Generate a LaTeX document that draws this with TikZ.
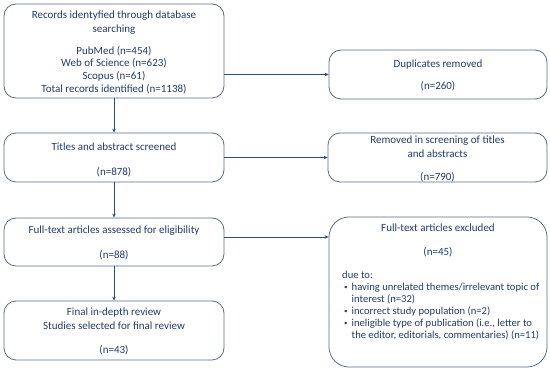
\documentclass[tikz,border=0pt]{standalone}
\usepackage{fontspec}
\setmainfont{Carlito}
\usetikzlibrary{arrows.meta}
\definecolor{txt}{HTML}{223B6A}
\definecolor{edge}{HTML}{5A6C8A}
\definecolor{arrc}{HTML}{2F4B7C}
\begin{document}
\begin{tikzpicture}[x=1pt,y=-1pt,
  box/.style={draw=edge,line width=0.8pt,rounded corners=12pt,inner sep=0pt},
  lbl/.style={text=txt,font=\fontsize{11}{13}\selectfont,inner sep=0pt,align=center},
  lst/.style={text=txt,font=\fontsize{10.6}{12.7}\selectfont,inner sep=0pt,anchor=base west},
  bul/.style={text=txt,font=\fontsize{7}{8}\selectfont,inner sep=0pt,anchor=base west},
  arr/.style={draw=arrc,line width=0.7pt,-{Stealth[length=4pt,width=3.5pt]}}]
\useasboundingbox (0,0) rectangle (550,371);
% boxes
\node[box,minimum width=220pt,minimum height=94pt] (b1) at (114,51) {};
\node[box,minimum width=218pt,minimum height=49pt] (dup) at (438,74.5) {};
\node[box,minimum width=220pt,minimum height=49pt] (tit) at (114,157.5) {};
\node[box,minimum width=219pt,minimum height=49pt] (rem) at (437.5,157.5) {};
\node[box,minimum width=220pt,minimum height=48pt] (ful) at (114,242) {};
\node[box,rounded corners=20pt,minimum width=218pt,minimum height=150pt] (exc) at (438,292) {};
\node[box,minimum width=220pt,minimum height=59pt] (fin) at (114,330.5) {};
% texts
\node[lbl,font=\fontsize{11}{14}\selectfont] (t1a) at (114,23) {Records identyfied through database\\searching};
\node[lbl,font=\fontsize{11}{12.6}\selectfont] (t1b) at (114,70) {PubMed (n=454)\\Web of Science (n=623)\\Scopus (n=61)\\Total records identified (n=1138)};
\node[lbl] (t2a) at (438,65) {Duplicates removed};
\node[lbl] (t2b) at (438,86) {(n=260)};
\node[lbl] (t3a) at (114,147) {Titles and abstract screened};
\node[lbl] (t3b) at (114,172) {(n=878)};
\node[lbl,font=\fontsize{11}{14}\selectfont] (t4a) at (437.5,147) {Removed in screening of titles\\and abstracts};
\node[lbl] (t4b) at (437.5,177) {(n=790)};
\node[lbl] (t5a) at (114,231) {Full-text articles assessed for eligibility};
\node[lbl] (t5b) at (114,255) {(n=88)};
\node[lbl] (t6a) at (438,228) {Full-text articles excluded};
\node[lbl] (t6b) at (438,252) {(n=45)};
\node[lst] (l0) at (342,279) {due to:};
\node[bul] (l1b) at (344,290) {•};
\node[lst] (l1) at (351.5,291) {having unrelated themes/irrelevant topic of};
\node[lst] (l1c) at (351.5,303) {interest (n=32)};
\node[bul] (l2b) at (344,314) {•};
\node[lst] (l2) at (351.5,315) {incorrect study population (n=2)};
\node[bul] (l3b) at (344,326) {•};
\node[lst] (l3) at (351.5,327) {ineligible type of publication (i.e., letter to};
\node[lst] (l3c) at (351.5,339) {the editor, editorials, commentaries) (n=11)};
\node[lbl,font=\fontsize{11}{14}\selectfont] (t7a) at (114,319) {Final in-depth review\\Studies selected for final review};
\node[lbl] (t7b) at (114,350) {(n=43)};
% connectors
\draw[arr] (b1.east |- dup.west) -- (dup.west);
\draw[arr] (tit.east) -- (rem.west);
\coordinate (fa) at ([yshift=5pt]ful.east);
\draw[arr] (fa) -- (fa -| exc.west);
\draw[arr] (b1.south) -- (tit.north);
\draw[arr] (tit.south) -- (ful.north);
\draw[arr] (ful.south) -- (fin.north);
\end{tikzpicture}
\end{document}
